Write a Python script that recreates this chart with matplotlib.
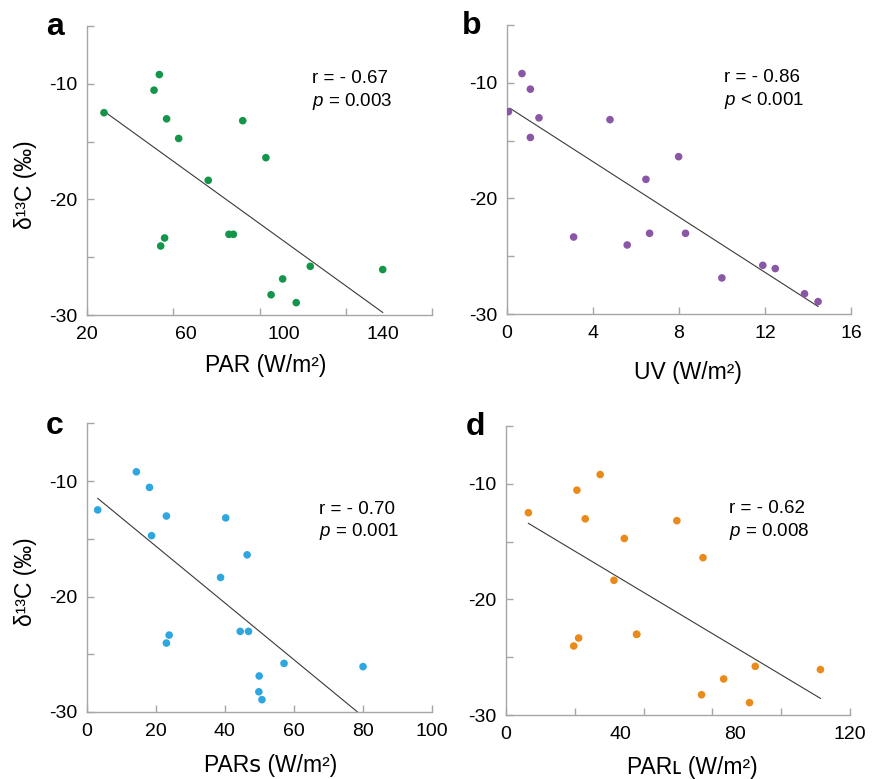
import matplotlib
matplotlib.use("Agg")
import matplotlib.pyplot as plt
from matplotlib.ticker import FixedLocator, FixedFormatter, NullFormatter, FuncFormatter

plt.rcParams['font.family'] = ['Liberation Sans', 'DejaVu Sans']
plt.rcParams['mathtext.fontset'] = 'custom'
plt.rcParams['mathtext.rm'] = 'Liberation Sans'
plt.rcParams['mathtext.it'] = 'Liberation Sans:italic'

# ---- data ----
d13C = [-12.5, -9.2, -10.55, -13.03, -14.73, -13.19, -16.39, -18.35, -23.02,
        -23.02, -23.34, -24.03, -25.79, -26.07, -26.88, -28.25, -28.93]
par = [26.9, 49.35, 47.2, 52.3, 57.2, 83.2, 92.6, 69.2, 77.6, 79.4, 51.5,
       49.9, 110.6, 140.0, 99.4, 94.7, 104.9]
uv = [0.08, 0.71, 1.10, 1.50, 1.10, 4.80, 7.99, 6.47, 6.64, 8.31, 3.11,
      5.60, 11.90, 12.48, 10.0, 13.84, 14.47]
par_s = [3.19, 14.4, 18.2, 23.1, 18.8, 40.3, 46.5, 38.8, 44.5, 46.9, 23.9,
         23.1, 57.2, 80.1, 50.0, 49.9, 50.8]
par_l = [7.9, 32.9, 24.8, 27.7, 41.3, 59.6, 68.7, 37.7, 45.6, 45.6, 25.4,
         23.7, 86.9, 109.6, 75.9, 68.2, 84.9]

# regression line end points
fit_a_x, fit_a_y = [28.1, 140.0], [-12.56, -29.78]
fit_b_x, fit_b_y = [0.15, 14.47], [-12.2, -29.35]
fit_c_x, fit_c_y = [3.2, 78.5], [-11.5, -30.0]
fit_d_x, fit_d_y = [7.9, 109.6], [-13.42, -28.56]

stats_a = ["r = - 0.67", "= 0.003"]
stats_b = ["r = - 0.86", "< 0.001"]
stats_c = ["r = - 0.70", "= 0.001"]
stats_d = ["r = - 0.62", "= 0.008"]

y_ticks = [-30, -25, -20, -15, -10, -5]
y_ticklabels = ['-30', '', '-20', '', '-10', '']

fig = plt.figure(figsize=(8.73, 7.79), dpi=100)
W, H = 873.0, 779.0

def add_ax(left, top, right, bottom):
    return fig.add_axes([left / W, 1 - bottom / H, (right - left) / W, (bottom - top) / H])

axes = {
    'a': add_ax(87, 26, 432, 315),
    'b': add_ax(506.7, 25, 851, 314),
    'c': add_ax(86.7, 423.3, 431.7, 712),
    'd': add_ax(505.7, 426, 850.3, 715),
}

spine_col = '#a6a6a6'

panels = [
    ('a', par, '#14964a', fit_a_x, fit_a_y, stats_a, (20, 160),
     [20, 55, 90, 125, 160], [20, 60, 100, 140], 'PAR (W/m²)', (0.517, -0.176),
     (0.652, 0.817, 0.740), True, (46, 35)),
    ('b', uv, '#8a56a6', fit_b_x, fit_b_y, stats_b, (0, 16),
     [0, 4, 8, 12, 16], [0, 4, 8, 12, 16], 'UV (W/m²)', (0.527, -0.204),
     (0.631, 0.817, 0.740), False, (462, 34)),
    ('c', par_s, '#2ea7e0', fit_c_x, fit_c_y, stats_c, (0, 100),
     [0, 20, 40, 60, 80, 100], [0, 20, 40, 60, 80, 100],
     'PARꜱ (W/m²)', (0.534, -0.187),
     (0.674, 0.703, 0.626), True, (46, 434)),
    ('d', par_l, '#ea8a1a', fit_d_x, fit_d_y, stats_d, (0, 120),
     [0, 24, 48, 72, 96, 120], [0, 40, 80, 120],
     'PARʟ (W/m²)', (0.542, -0.182),
     (0.649, 0.713, 0.634), False, (466, 435)),
]

for (key, xs, col, fx, fy, stats, xlim, xmaj, xlab, xlabel, xlpos,
     spos, show_ylab, letter_pos) in panels:
    ax = axes[key]
    ax.scatter(xs, d13C, s=30, color=col, edgecolors='none', zorder=3)
    ax.plot(fx, fy, color='#3a3a3a', lw=0.8, zorder=2)
    ax.set_xlim(*xlim)
    ax.set_ylim(-30, -5)
    for s in ['top', 'right']:
        ax.spines[s].set_visible(False)
    for s in ['left', 'bottom']:
        ax.spines[s].set_color(spine_col)
        ax.spines[s].set_linewidth(1.0)
    # y ticks
    ax.yaxis.set_major_locator(FixedLocator(y_ticks))
    ax.yaxis.set_major_formatter(FixedFormatter(y_ticklabels))
    ax.tick_params(axis='y', which='major', direction='in', length=5,
                   width=1.0, color=spine_col, labelsize=14, pad=7)
    # x ticks: marks at xmaj, labels at xlab (minor with zero length)
    ax.xaxis.remove_overlapping_locs = False
    ax.xaxis.set_major_locator(FixedLocator(xmaj))
    ax.xaxis.set_major_formatter(NullFormatter())
    ax.xaxis.set_minor_locator(FixedLocator(xlab))
    ax.xaxis.set_minor_formatter(FuncFormatter(lambda v, p: f'{v:g}'))
    ax.tick_params(axis='x', which='major', direction='in', length=5,
                   width=1.0, color=spine_col)
    ax.tick_params(axis='x', which='minor', length=0, labelsize=14, pad=8)
    # labels
    ax.set_xlabel(xlabel, fontsize=16.5)
    ax.xaxis.label.set_va('center')
    ax.xaxis.set_label_coords(*xlpos)
    if show_ylab:
        ax.set_ylabel('δ¹³C (‰)', fontsize=16.5)
        ax.yaxis.label.set_va('center')
        ax.yaxis.set_label_coords(-0.178, 0.45)
    sx, sy1, sy2 = spos
    ax.text(sx, sy1, stats[0], transform=ax.transAxes, fontsize=13.5,
            va='center', ha='left')
    ax.text(sx, sy2, r'$\it{p}$ ' + stats[1], transform=ax.transAxes,
            fontsize=13.5, va='center', ha='left')
    fig.text(letter_pos[0] / W, 1 - letter_pos[1] / H, key, fontsize=23,
             fontweight='bold', ha='left', va='baseline')

fig.savefig('out.png', dpi=100)
